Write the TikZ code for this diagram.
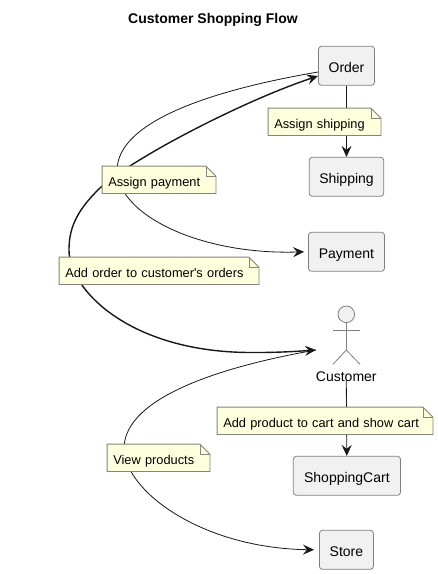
\documentclass[tikz,border=0pt]{standalone}
\usepackage{fontspec}
\setmainfont{Liberation Sans}
\usetikzlibrary{arrows.meta}
\definecolor{boxfill}{HTML}{F1F1F1}
\definecolor{boxline}{HTML}{808080}
\definecolor{notefill}{HTML}{FEFFDD}
\definecolor{noteline}{HTML}{85857A}
\definecolor{edgeline}{HTML}{181818}
\tikzset{
  x=1pt,y=-1pt,
  classbox/.style={draw=boxline,fill=boxfill,line width=0.8pt,rounded corners=3pt,inner sep=0pt,minimum height=39pt,font=\fontsize{14}{16}\selectfont,text height=14pt,text depth=0pt,text=black},
  notetext/.style={inner sep=0pt,minimum height=27pt,font=\fontsize{12.8}{15}\selectfont,text height=14pt,text depth=0pt,align=left,text=black},
  noteshape/.style={draw=noteline,fill=notefill,line width=0.8pt,line join=miter},
  foldline/.style={draw=noteline,line width=0.8pt},
  edge/.style={draw=edgeline,line width=0.8pt,-{Stealth[length=11pt,width=10pt,inset=4pt]}},
  edgeplain/.style={draw=edgeline,line width=0.8pt},
  heavyedge/.style={draw=edgeline,line width=1.4pt,{Stealth[length=11pt,width=10pt,inset=4pt]}-{Stealth[length=11pt,width=10pt,inset=4pt]}},
  actorline/.style={draw=boxline,line width=0.8pt},
}
% name, centre x, centre y, width, text
\newcommand{\notebox}[5]{%
  \node[notetext,text width=#4pt-12pt,inner xsep=6pt] (#1) at (#2,#3) {#5};
  \draw[noteshape] (#1.north west) -- ([xshift=-10pt]#1.north east) -- ([yshift=-10pt]#1.north east) -- (#1.south east) -- (#1.south west) -- cycle;
  \draw[foldline] ([xshift=-10pt]#1.north east) -- ([xshift=-10pt,yshift=-10pt]#1.north east) -- ([yshift=-10pt]#1.north east);
  \node[notetext,text width=#4pt-12pt,inner xsep=6pt] at (#1.center) {#5};
}
\begin{document}
\begin{tikzpicture}
\useasboundingbox (0,0) rectangle (438,574);
\fill[white] (0,0) rectangle (438,574);
\node[font=\bfseries\fontsize{14}{16}\selectfont,text=black] (title) at (213,20) {Customer Shopping Flow};

\node[classbox,minimum width=56pt] (order) at (346.5,65.8) {Order};
\node[classbox,minimum width=74.4pt] (shipping) at (346.5,176.8) {Shipping};
\node[classbox,minimum width=76pt] (payment) at (346.5,251.8) {Payment};
\node[classbox,minimum width=107.2pt] (cart) at (346.9,475.8) {ShoppingCart};
\node[classbox,minimum width=54pt] (store) at (346.4,549.8) {Store};

% actor
\coordinate (actorhip) at (346.3,350);
\coordinate (actorneck) at (346.3,322.6);
\draw[actorline,fill=boxfill] (346.3,314.3) circle (8.3);
\draw[actorline] (actorneck) -- (actorhip);
\draw[actorline] (333,330.3) -- (360,330.3);
\draw[actorline] (333,364.3) -- (actorhip) -- (360,364.3);
\node[font=\fontsize{14}{16}\selectfont,text=black,inner sep=0pt,text height=12pt,text depth=0pt] (customer) at (346.3,375) {Customer};

\coordinate (orderA) at (318,72);
\coordinate (orderB) at (318,76);
\coordinate (custA) at (316,350);

% connectors
\draw[edge] (orderA) .. controls (260,82) and (118,110) .. (117,170) .. controls (118,215) and (200,255) .. ([xshift=-4pt]payment.west);
\draw[heavyedge] (orderB) .. controls (240,102) and (130,160) .. (100,188) .. controls (75,212) and (69,230) .. (69,250) .. controls (69,290) and (130,352) .. (250,352.5) .. controls (275,352.7) and (295,351.5) .. (custA);
\draw[edge] (custA) .. controls (230,365) and (125,395) .. (124,448) .. controls (124,490) and (200,548) .. ([xshift=-5pt]store.west);
\draw[edge] (order) -- (shipping);
\draw[edge] (customer.south) ++(0,1pt) -- (cart);

% notes
\notebox{noteship}{324.5}{121.8}{112.4}{Assign shipping}
\notebox{notepay}{159}{179.8}{113.4}{Assign payment}
\notebox{noteadd}{159}{270.8}{199.4}{Add order to customer\textquotesingle s orders}
\notebox{noteprod}{325}{420.8}{215.4}{Add product to cart and show cart}
\notebox{noteview}{158.5}{457.8}{102.4}{View products}
\end{tikzpicture}
\end{document}
